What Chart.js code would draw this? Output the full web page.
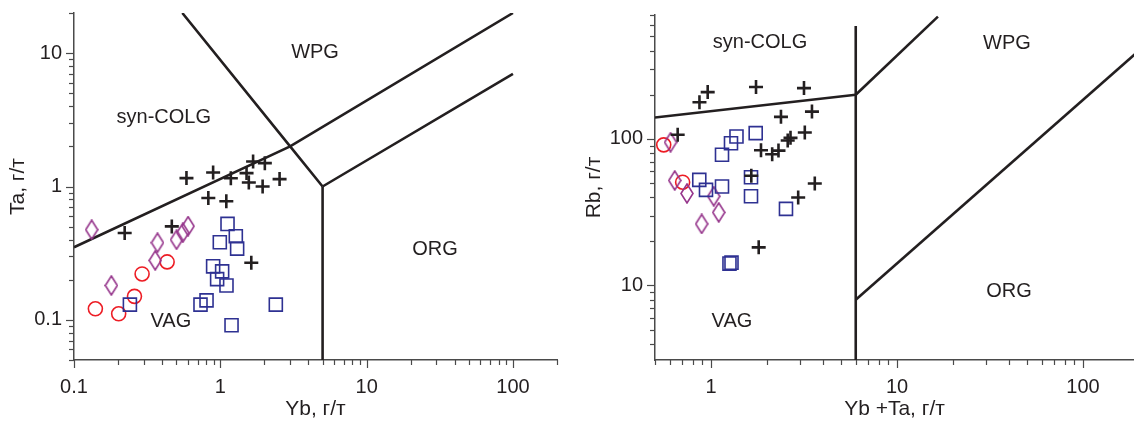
<!DOCTYPE html>
<html>
<head>
<meta charset="utf-8">
<script src="https://cdn.jsdelivr.net/npm/chart.js@4.4.0/dist/chart.umd.min.js"></script>
<style>
  html, body { margin: 0; padding: 0; background: #fff; }
  #wrap { position: relative; width: 1134px; height: 423px; }
  .box { position: absolute; top: 0; width: 567px; height: 423px; }
  #boxLeft { left: 0; }
  #boxRight { left: 567px; }
</style>
</head>
<body>
<div id="wrap">
  <div class="box" id="boxLeft"><canvas id="chartTaYb"></canvas></div>
  <div class="box" id="boxRight"><canvas id="chartRbYbTa"></canvas></div>
</div>
<script>
// ---- Ta - Yb (left diagram) ----
const taYbCross = [[0.222,0.448],[0.466,0.502],[0.587,1.156],[0.828,0.819],[0.893,1.273],[1.099,0.775],[1.180,1.152],[1.511,1.260],[1.566,1.071],[1.675,1.539],[1.946,1.000],[2.015,1.497],[2.541,1.136],[1.628,0.268]];
const taYbSquare = [[0.241,0.130],[0.732,0.130],[0.805,0.140],[0.893,0.252],[0.951,0.202],[1.029,0.231],[1.102,0.181],[0.992,0.382],[1.120,0.524],[1.276,0.424],[1.303,0.342],[1.193,0.091],[2.395,0.130]];
const taYbDiamond = [[0.132,0.474],[0.180,0.181],[0.372,0.379],[0.359,0.279],[0.502,0.399],[0.554,0.450],[0.602,0.504]];
const taYbCircle = [[0.140,0.121],[0.202,0.111],[0.259,0.150],[0.292,0.221],[0.433,0.272]];

// boundaries (Pearce et al.)
const taYbLineLow = [[0.1,0.35],[3,2],[100,20]];
const taYbLineHigh = [[0.55,20],[3,2],[5,1]];
const taYbLineOrg = [[5,1],[100,7]];
const taYbLineVert = [[5,0.05],[5,1]];

const taYbZones = [['WPG',4.44,10.2],['syn-COLG',0.411,3.32],['ORG',29.3,0.336],['VAG',0.459,0.0976]];

const taYbXTicks = [0.1,0.2,0.3,0.4,0.5,0.6,0.7,0.8,0.9,1,2,3,4,5,6,7,8,9,10,20,30,40,50,60,70,80,90,100,200];
const taYbXLabels = [0.1,1,10,100];
const taYbYTicks = [0.05,0.06,0.07,0.08,0.09,0.1,0.2,0.3,0.4,0.5,0.6,0.7,0.8,0.9,1,2,3,4,5,6,7,8,9,10,20];
const taYbYLabels = [0.1,1,10];

// ---- Rb - (Yb+Ta) (right diagram) ----
const rbCross = [[0.662,106.6],[0.867,177.7],[0.960,208.5],[1.746,226.1],[3.162,222],[2.378,141.3],[3.49,153.5],[3.194,110.4],[2.676,101.6],[2.585,97.4],[2.306,83.2],[2.133,78.5],[1.857,83.6],[1.647,56.0],[3.614,49.6],[2.943,39.8],[1.805,18.2]];
const rbSquare = [[1.371,103.7],[1.281,93.3],[1.146,77.9],[1.739,109.5],[0.865,52.5],[0.940,44.9],[1.146,47.3],[1.641,54.7],[1.641,40.6],[2.53,33.3],[1.257,14.1],[1.289,14.3]];
const rbDiamond = [[0.606,94.8],[0.638,52.0],[0.743,42.4],[1.034,40.6],[1.100,31.5],[0.891,26.3]];
const rbCircle = [[0.557,91.0],[0.704,50.6]];

const rbLineColg = [[0.5,140],[6,200]];
const rbLineVert = [[6,3],[6,590]];
const rbLineWpg = [[6,200],[16.6,682]];
const rbLineOrg = [[6,8],[200,400]];

const rbZones = [['syn-COLG',1.834,455],['WPG',39.0,444],['ORG',40.0,9.14],['VAG',1.297,5.71]];

const rbXTicks = [0.5,0.6,0.7,0.8,0.9,1,2,3,4,5,6,7,8,9,10,20,30,40,50,60,70,80,90,100];
const rbXLabels = [1,10,100];
const rbYTicks = [4,5,6,7,8,9,10,20,30,40,50,60,70,80,90,100,200,300,400,500,600,700];
const rbYLabels = [10,100];

const INK = '#231f20';
const FONT = "'Liberation Sans', Arial, sans-serif";

function pts(arr) {
    return arr.map(function(p) { return {x: p[0], y: p[1]}; });
}

function diamondImage() {
    var c = document.createElement('canvas');
    c.width = 14; c.height = 21;
    var g = c.getContext('2d');
    g.strokeStyle = '#96368c';
    g.lineWidth = 1.6;
    g.beginPath();
    g.moveTo(7, 1); g.lineTo(13, 10.5); g.lineTo(7, 20); g.lineTo(1, 10.5);
    g.closePath();
    g.stroke();
    return c;
}
const diamond = diamondImage();

function markers(cross, square, diamondPts, circle) {
    return [
        {data: pts(cross), pointStyle: 'cross', pointRadius: 7, borderWidth: 2.6, borderColor: INK},
        {data: pts(square), pointStyle: 'rect', pointRadius: 9.2, borderWidth: 1.6, borderColor: '#2e3192', backgroundColor: 'rgba(0,0,0,0)'},
        {data: pts(diamondPts), pointStyle: diamond, pointRadius: 8},
        {data: pts(circle), pointStyle: 'circle', pointRadius: 7, borderWidth: 1.6, borderColor: '#ed1c24', backgroundColor: 'rgba(0,0,0,0)'}
    ];
}

function boundary(line) {
    return {data: pts(line), showLine: true, pointRadius: 0, borderColor: INK, borderWidth: 2.6, clip: 0};
}

// tick marks: long for labelled decades, short for the rest
function tickMarks(xMajor, yMajor) {
    return {
        id: 'tickMarks',
        afterDraw: function(chart) {
            var ctx = chart.ctx;
            ctx.save();
            ctx.strokeStyle = '#4a4a4a';
            ctx.lineWidth = 1.2;
            ['x', 'y'].forEach(function(id) {
                var s = chart.scales[id];
                var majors = id === 'x' ? xMajor : yMajor;
                s.ticks.forEach(function(t) {
                    var p = Math.round(s.getPixelForValue(t.value)) + 0.5;
                    var len = majors.indexOf(t.value) >= 0 ? 8 : 5;
                    ctx.beginPath();
                    if (id === 'x') { ctx.moveTo(p, s.top); ctx.lineTo(p, s.top + len); }
                    else { ctx.moveTo(s.right, p); ctx.lineTo(s.right - len, p); }
                    ctx.stroke();
                });
            });
            ctx.restore();
        }
    };
}

function zoneLabels(zones) {
    return {
        id: 'zoneLabels',
        afterDatasetsDraw: function(chart) {
            var ctx = chart.ctx;
            ctx.save();
            ctx.fillStyle = INK;
            ctx.font = '20px ' + FONT;
            ctx.textAlign = 'center';
            ctx.textBaseline = 'middle';
            zones.forEach(function(z) {
                ctx.fillText(z[0], chart.scales.x.getPixelForValue(z[1]), chart.scales.y.getPixelForValue(z[2]));
            });
            ctx.restore();
        }
    };
}

function logAxis(min, max, tickValues, labelValues, title, horizontal, size, titlePad) {
    return {
        type: 'logarithmic',
        min: min,
        max: max,
        afterBuildTicks: function(scale) {
            scale.ticks = tickValues.map(function(v) { return {value: v}; });
        },
        afterFit: function(scale) {
            if (horizontal) scale.height = size; else scale.width = size;
            // no extra room for end labels, the layout padding handles it
            scale.paddingTop = 0; scale.paddingBottom = 0;
            scale.paddingLeft = 0; scale.paddingRight = 0;
        },
        grid: {display: false, drawTicks: false},
        border: {display: true, color: '#4a4a4a', width: 1.5},
        ticks: {
            autoSkip: false,
            maxRotation: 0,
            padding: horizontal ? 15 : 12,
            color: INK,
            font: {family: FONT, size: 20},
            callback: function(value) {
                return labelValues.indexOf(value) >= 0 ? String(value) : '';
            }
        },
        title: {
            display: true,
            text: title,
            color: INK,
            font: {family: FONT, size: 21},
            padding: titlePad
        }
    };
}

function makeChart(canvasId, datasets, xAxis, yAxis, pad, plugins) {
    var ctx = document.getElementById(canvasId).getContext('2d');
    return new Chart(ctx, {
        type: 'scatter',
        data: {datasets: datasets},
        options: {
            responsive: true,
            maintainAspectRatio: false,
            animation: false,
            devicePixelRatio: 1,
            layout: {padding: pad, autoPadding: false},
            plugins: {legend: {display: false}, tooltip: {enabled: false}},
            scales: {x: xAxis, y: yAxis}
        },
        plugins: plugins
    });
}

makeChart('chartTaYb',
    markers(taYbCross, taYbSquare, taYbDiamond, taYbCircle).concat([
        boundary(taYbLineLow), boundary(taYbLineHigh), boundary(taYbLineOrg), boundary(taYbLineVert)
    ]),
    logAxis(0.1, 200, taYbXTicks, taYbXLabels, 'Yb, г/т', true, 63, {top: 0, bottom: 1}),
    logAxis(0.05, 20, taYbYTicks, taYbYLabels, 'Ta, г/т', false, 74, {top: 6, bottom: 0}),
    {left: 0, top: 13, right: 10, bottom: 0},
    [tickMarks(taYbXLabels, taYbYLabels), zoneLabels(taYbZones)]
);

makeChart('chartRbYbTa',
    markers(rbCross, rbSquare, rbDiamond, rbCircle).concat([
        boundary(rbLineColg), boundary(rbLineVert), boundary(rbLineWpg), boundary(rbLineOrg)
    ]),
    logAxis(0.5, 188, rbXTicks, rbXLabels, 'Yb +Ta, г/т', true, 63, {top: 0, bottom: 1}),
    logAxis(3.1, 700, rbYTicks, rbYLabels, 'Rb, г/т', false, 88, {top: 15, bottom: 0}),
    {left: 0, top: 15, right: 0, bottom: 0},
    [tickMarks(rbXLabels, rbYLabels), zoneLabels(rbZones)]
);
</script>
</body>
</html>
